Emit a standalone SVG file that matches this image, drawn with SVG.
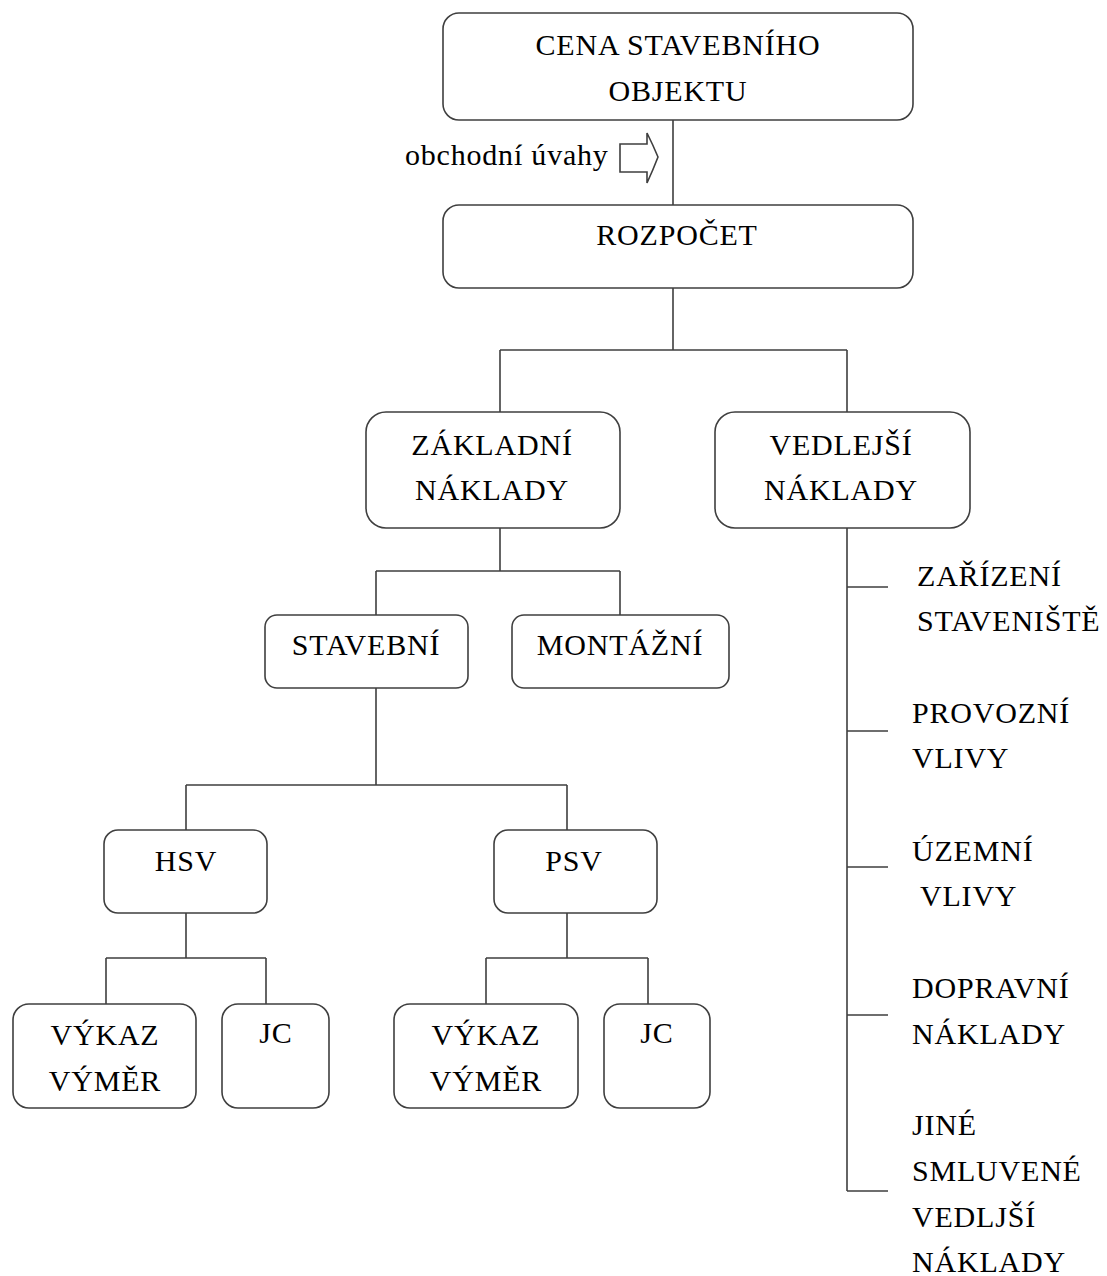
<svg xmlns="http://www.w3.org/2000/svg" width="1107" height="1276" viewBox="0 0 1107 1276">
<style>
.box{fill:#fff;stroke:#3f3f3f;stroke-width:1.6}
.ln{fill:none;stroke:#3f3f3f;stroke-width:1.6}
text{font-family:"Liberation Serif","Times New Roman",serif;font-size:30px;fill:#000;letter-spacing:0.8px}
.c{text-anchor:middle}
</style>
<rect width="1107" height="1276" fill="#fff"/>
<g id="connectors">
<path class="ln" d="M673,120V205M673,288V350M500,350H847M500,350V412M847,350V412"/>
<path class="ln" d="M500,528V571M376,571H620M376,571V615M620,571V615"/>
<path class="ln" d="M376,688V785M186,785H567M186,785V830M567,785V830"/>
<path class="ln" d="M186,913V958M106,958H266M106,958V1004M266,958V1004"/>
<path class="ln" d="M567,913V958M486,958H648M486,958V1004M648,958V1004"/>
<path class="ln" d="M847,528V1191M847,587H888M847,731H888M847,867H888M847,1015H888M847,1191H888"/>
</g>
<g id="obchodni-uvahy">
<text x="405" y="165">obchodní úvahy</text>
<path class="ln" d="M620,144H647V133Q653,145 658,157Q653,170 647,183V172H620Z"/>
</g>
<g id="cena"><rect class="box" x="443" y="13" width="470" height="107" rx="16"/><text class="c" x="678" y="55">CENA STAVEBNÍHO</text><text class="c" x="678" y="101">OBJEKTU</text></g>
<g id="rozpocet"><rect class="box" x="443" y="205" width="470" height="83" rx="16"/><text class="c" x="677" y="245">ROZPOČET</text></g>
<g id="zakladni"><rect class="box" x="366" y="412" width="254" height="116" rx="20"/><text class="c" x="492" y="455">ZÁKLADNÍ</text><text class="c" x="492" y="500">NÁKLADY</text></g>
<g id="vedlejsi"><rect class="box" x="715" y="412" width="255" height="116" rx="20"/><text class="c" x="841" y="455">VEDLEJŠÍ</text><text class="c" x="841" y="500">NÁKLADY</text></g>
<g id="stavebni"><rect class="box" x="265" y="615" width="203" height="73" rx="12"/><text class="c" x="366" y="655">STAVEBNÍ</text></g>
<g id="montazni"><rect class="box" x="512" y="615" width="217" height="73" rx="12"/><text class="c" x="620" y="655">MONTÁŽNÍ</text></g>
<g id="hsv"><rect class="box" x="104" y="830" width="163" height="83" rx="14"/><text class="c" x="186" y="871">HSV</text></g>
<g id="psv"><rect class="box" x="494" y="830" width="163" height="83" rx="14"/><text class="c" x="574" y="871">PSV</text></g>
<g id="vykaz1"><rect class="box" x="13" y="1004" width="183" height="104" rx="16"/><text class="c" x="105" y="1045">VÝKAZ</text><text class="c" x="105" y="1091">VÝMĚR</text></g>
<g id="jc1"><rect class="box" x="222" y="1004" width="107" height="104" rx="16"/><text class="c" x="276" y="1043">JC</text></g>
<g id="vykaz2"><rect class="box" x="394" y="1004" width="184" height="104" rx="16"/><text class="c" x="486" y="1045">VÝKAZ</text><text class="c" x="486" y="1091">VÝMĚR</text></g>
<g id="jc2"><rect class="box" x="604" y="1004" width="106" height="104" rx="16"/><text class="c" x="657" y="1043">JC</text></g>
<g id="zarizeni"><text x="917" y="586">ZAŘÍZENÍ</text><text x="917" y="631">STAVENIŠTĚ</text></g>
<g id="provozni"><text x="912" y="723">PROVOZNÍ</text><text x="912" y="768">VLIVY</text></g>
<g id="uzemni"><text x="912" y="861">ÚZEMNÍ</text><text x="920" y="906">VLIVY</text></g>
<g id="dopravni"><text x="912" y="998">DOPRAVNÍ</text><text x="912" y="1044">NÁKLADY</text></g>
<g id="jine"><text x="912" y="1135">JINÉ</text><text x="912" y="1181">SMLUVENÉ</text><text x="912" y="1227">VEDLJŠÍ</text><text x="912" y="1272">NÁKLADY</text></g>
</svg>
